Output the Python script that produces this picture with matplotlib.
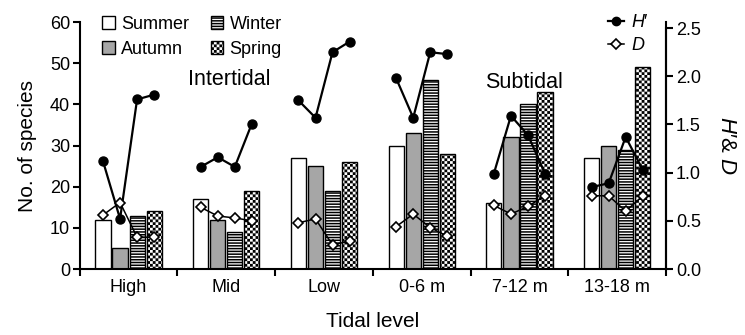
import warnings
import numpy as np
import matplotlib
matplotlib.use('Agg')
import matplotlib.pyplot as plt
import matplotlib.hatch as mhatch
from matplotlib.path import Path
from matplotlib.patches import Patch
from matplotlib.lines import Line2D

warnings.filterwarnings('ignore')

plt.rcParams['font.family'] = ['Liberation Sans', 'DejaVu Sans']
plt.rcParams['mathtext.fontset'] = 'custom'
plt.rcParams['mathtext.it'] = 'Liberation Sans:italic'
plt.rcParams['mathtext.rm'] = 'Liberation Sans'
plt.rcParams['hatch.linewidth'] = 1.1


class CheckerHatch(mhatch.HatchPatternBase):
    # filled squares on a checkerboard, one 'c' = 6 cells per hatch unit
    def __init__(self, hatch, density):
        self.n = hatch.count('c') * density
        self.num_vertices = (self.n * self.n // 2) * 5 if self.n else 0

    def set_vertices_and_codes(self, vertices, codes):
        n = self.n
        s = 1.0 / n
        m = 0.0075  # shrink so the stroke doesn't eat the white cells
        k = 0
        for i in range(n):
            for j in range(n):
                if (i + j) % 2:
                    continue
                x0, y0 = i * s + m, j * s + m
                x1, y1 = (i + 1) * s - m, (j + 1) * s - m
                vertices[k:k + 5] = [[x0, y0], [x1, y0], [x1, y1], [x0, y1], [x0, y0]]
                codes[k:k + 5] = [Path.MOVETO, Path.LINETO, Path.LINETO,
                                  Path.LINETO, Path.CLOSEPOLY]
                k += 5


mhatch._hatch_types.append(CheckerHatch)

# data
levels = ['High', 'Mid', 'Low', '0-6 m', '7-12 m', '13-18 m']
seasons = ['Summer', 'Autumn', 'Winter', 'Spring']
summer = [12, 17, 27, 30, 16, 27]
autumn = [5, 12, 25, 33, 32, 30]
winter = [13, 9, 19, 46, 40, 29]
spring = [14, 19, 26, 28, 43, 49]
# diversity index H' and richness D, per level per season
h_index = [[1.12, 0.52, 1.76, 1.81],
           [1.06, 1.16, 1.06, 1.51],
           [1.75, 1.57, 2.25, 2.36],
           [1.98, 1.57, 2.25, 2.23],
           [0.99, 1.59, 1.39, 0.99],
           [0.85, 0.89, 1.37, 1.03]]
d_index = [[0.56, 0.69, 0.33, 0.33],
           [0.64, 0.55, 0.53, 0.50],
           [0.48, 0.52, 0.25, 0.29],
           [0.44, 0.57, 0.43, 0.34],
           [0.66, 0.57, 0.65, 0.76],
           [0.76, 0.76, 0.60, 0.76]]

styles = [dict(color='white'),
          dict(color='#a6a6a6'),
          dict(color='white', hatch='------'),
          dict(color='white', hatch='cccccc')]

fig = plt.figure(figsize=(7.45, 3.35), dpi=100)
ax = fig.add_axes([0.107, 0.197, 0.787, 0.737])
ax2 = ax.twinx()

x = np.arange(len(levels))
offsets = np.array([-0.262, -0.087, 0.087, 0.262])
width = 0.155

for vals, off, st in zip([summer, autumn, winter, spring], offsets, styles):
    ax.bar(x + off, vals, width, edgecolor='black', linewidth=1.0, **st)

for i in range(len(levels)):
    xs = x[i] + offsets
    ax2.plot(xs, h_index[i], color='black', linewidth=1.6, marker='o',
             markersize=6.5, markerfacecolor='black', zorder=3)
    ax2.plot(xs, d_index[i], color='black', linewidth=1.1, marker='D',
             markersize=5.5, markerfacecolor='white', markeredgecolor='black',
             markeredgewidth=1.2, zorder=4)

ax.set_xlim(-0.5, len(levels) - 0.5)
ax.set_ylim(0, 60)
ax2.set_ylim(0, 2.5 * 246 / 240)
ax.set_yticks(np.arange(0, 61, 10))
ax2.set_yticks(np.arange(0, 2.51, 0.5))
ax2.set_yticklabels([f'{v:.1f}' for v in np.arange(0, 2.51, 0.5)])

ax.set_xticks(x)
ax.set_xticklabels(levels)
ax.set_xticks(np.arange(-0.5, len(levels), 1.0), minor=True)
ax.tick_params(axis='x', which='major', length=0, labelsize=13, pad=7)
ax.tick_params(axis='x', which='minor', length=5, width=1.5, direction='out')
ax.tick_params(axis='y', labelsize=13, length=5, width=1.5, direction='out', pad=2)
ax2.tick_params(axis='y', labelsize=13, length=5, width=1.5, direction='out', pad=2)

for a in (ax, ax2):
    a.spines['top'].set_visible(False)
    for s in ('left', 'right', 'bottom'):
        a.spines[s].set_linewidth(1.5)
ax2.spines['right'].set_bounds(0, 2.5)
ax2.spines['left'].set_visible(False)
ax2.spines['bottom'].set_visible(False)

ax.set_ylabel('No. of species', fontsize=15, labelpad=9)
ax.set_xlabel('Tidal level', fontsize=15, labelpad=12)
ax2.set_ylabel(r"$\mathit{H}$′& $\mathit{D}$", fontsize=16, rotation=270, labelpad=26)

ax.text(1.035, 46, 'Intertidal', fontsize=15.5, ha='center', va='center')
ax.text(4.05, 45.3, 'Subtidal', fontsize=15.5, ha='center', va='center')

# legend for bars
bar_handles = [Patch(facecolor=st['color'], edgecolor='black', hatch=st.get('hatch'))
               for st in styles]
ax.legend(bar_handles, seasons, ncol=2, loc='upper left',
          bbox_to_anchor=(102 / 745, 1 - 16 / 335), bbox_transform=fig.transFigure,
          frameon=False, fontsize=13, handlelength=0.7, handleheight=0.7,
          handletextpad=0.35, columnspacing=1.2, labelspacing=0.42, borderpad=0.0,
          borderaxespad=0.0)

line_handles = [Line2D([], [], color='black', linewidth=1.6, marker='o', markersize=6),
                Line2D([], [], color='black', linewidth=1.1, marker='D', markersize=5,
                       markerfacecolor='white', markeredgewidth=1.2)]
ax2.legend(line_handles, [r"$\mathit{H}$′", r"$\mathit{D}$"], loc='upper left',
           bbox_to_anchor=(608 / 745, 1 - 14 / 335), bbox_transform=fig.transFigure,
           frameon=False, fontsize=13, handlelength=0.9, handletextpad=0.35,
           labelspacing=0.36, borderpad=0.0, borderaxespad=0.0)

fig.savefig('out.png', dpi=100)
